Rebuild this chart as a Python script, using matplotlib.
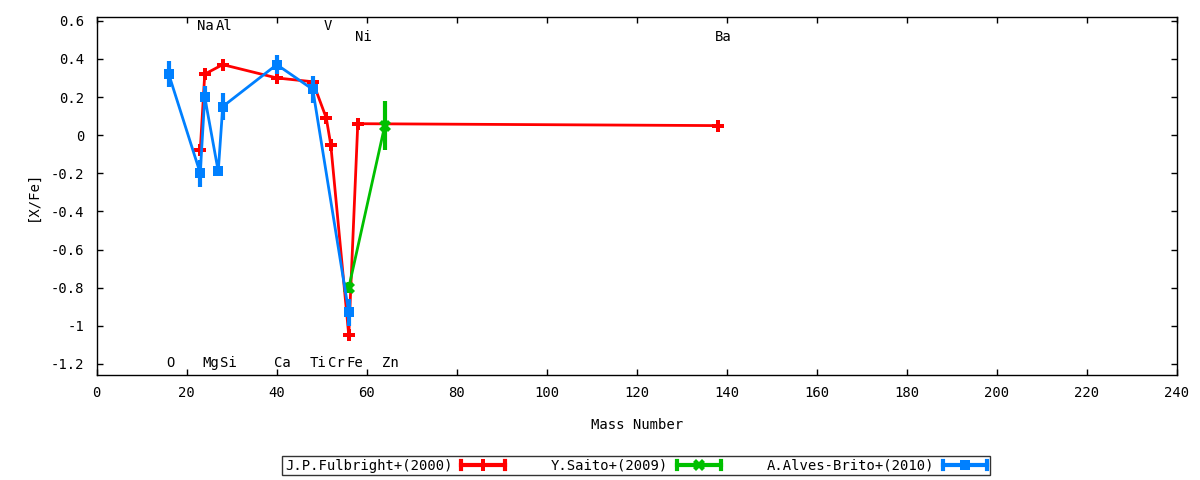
import matplotlib
matplotlib.use('Agg')
import matplotlib.pyplot as plt
from matplotlib.lines import Line2D
from matplotlib.legend_handler import HandlerBase

plt.rcParams['font.family'] = ['DejaVu Sans Mono']
plt.rcParams['font.size'] = 10

# Fulbright 2000 (no visible error bars)
fulb_mass = [23, 24, 28, 40, 48, 51, 52, 56, 58, 138]
fulb_xfe = [-0.08, 0.32, 0.37, 0.30, 0.28, 0.09, -0.05, -1.05, 0.06, 0.05]

# Saito 2009
saito_mass = [56, 64]
saito_xfe = [-0.80, 0.05]
saito_err = [0.03, 0.13]

# Alves-Brito 2010
alves_mass = [16, 23, 24, 27, 28, 40, 48, 56]
alves_xfe = [0.32, -0.20, 0.20, -0.19, 0.15, 0.37, 0.24, -0.93]
alves_err = [0.07, 0.07, 0.06, 0.02, 0.07, 0.05, 0.07, 0.07]

# element labels: name, mass, y
elem_names = ['Na', 'Al', 'V', 'Ni', 'Ba', 'O', 'Mg', 'Si', 'Ca', 'Ti', 'Cr', 'Fe', 'Zn']
elem_mass = [23, 27, 51, 58, 138, 16, 24, 28, 40, 48, 52, 56, 64]
elem_y = [0.57, 0.57, 0.57, 0.515, 0.515, -1.195, -1.195, -1.195, -1.195, -1.195, -1.195, -1.195, -1.195]

RED = '#ff0000'
GREEN = '#00c000'
BLUE = '#0080ff'
FS = 10


class GnuplotErrHandler(HandlerBase):
    """legend sample like gnuplot yerrorlines: bar with end caps, marker in middle"""
    def create_artists(self, legend, orig_handle, xdescent, ydescent,
                       width, height, fontsize, trans):
        c = orig_handle.get_color()
        y = height / 2 - ydescent
        x0, x1 = -xdescent, -xdescent + width
        h = height * 0.4
        arts = [
            Line2D([x0, x1], [y, y], color=c, lw=3),
            Line2D([x0, x0], [y - h, y + h], color=c, lw=3),
            Line2D([x1, x1], [y - h, y + h], color=c, lw=3),
            Line2D([(x0 + x1) / 2], [y], marker=orig_handle.get_marker(),
                   ms=orig_handle.get_markersize(), color=c, mew=0, ls='none'),
        ]
        for a in arts:
            a.set_transform(trans)
        return arts


fig = plt.figure(figsize=(12, 4.8), dpi=100)
ax = fig.add_axes([0.0806, 0.2181, 0.9002, 0.7458])

ax.plot(fulb_mass, fulb_xfe, color=RED, lw=2, marker='P', ms=9, mew=0)
ax.errorbar(saito_mass, saito_xfe, yerr=saito_err, color=GREEN, lw=2,
            marker='X', ms=9, mew=0, capsize=4, capthick=3, elinewidth=3)
ax.errorbar(alves_mass, alves_xfe, yerr=alves_err, color=BLUE, lw=2,
            marker='s', ms=7.5, mew=0, capsize=4, capthick=3, elinewidth=3)

for name, m, y in zip(elem_names, elem_mass, elem_y):
    ax.annotate(name, (m, y), xytext=(-2, 0), textcoords='offset points',
                ha='left', va='center', fontsize=FS)

ax.set_xlim(0, 240)
ax.set_ylim(-1.26, 0.618)
ax.set_xticks(range(0, 241, 20))
yt = [0.6, 0.4, 0.2, 0, -0.2, -0.4, -0.6, -0.8, -1, -1.2]
ax.set_yticks(yt)
ax.set_yticklabels(['0.6', '0.4', '0.2', '0', '-0.2', '-0.4', '-0.6', '-0.8', '-1', '-1.2'])
ax.tick_params(direction='in', top=True, right=True, length=4, width=1, labelsize=FS)
ax.tick_params(axis='x', pad=8)
ax.tick_params(axis='y', pad=9)
for s in ax.spines.values():
    s.set_linewidth(1)

ax.set_xlabel('Mass Number', fontsize=FS)
ax.xaxis.set_label_coords(0.5, -0.118)
ax.set_ylabel('[X/Fe]', fontsize=FS)
ax.yaxis.set_label_coords(-0.053, 0.5)

handles = [
    Line2D([], [], color=RED, marker='P', ms=8),
    Line2D([], [], color=GREEN, marker='X', ms=8),
    Line2D([], [], color=BLUE, marker='s', ms=7),
]
labels = ['J.P.Fulbright+(2000)', 'Y.Saito+(2009)', 'A.Alves-Brito+(2010)']
leg = fig.legend(handles, labels, handler_map={Line2D: GnuplotErrHandler()},
                 loc='center', bbox_to_anchor=(0.530, 0.030), ncol=3,
                 markerfirst=False, frameon=True, fancybox=False, shadow=False,
                 fontsize=FS, handlelength=3.2, handletextpad=0.6,
                 columnspacing=3.3, borderpad=0.2, borderaxespad=0)
leg.get_frame().set_edgecolor('black')
leg.get_frame().set_linewidth(1)

fig.savefig('out.png', dpi=100)
